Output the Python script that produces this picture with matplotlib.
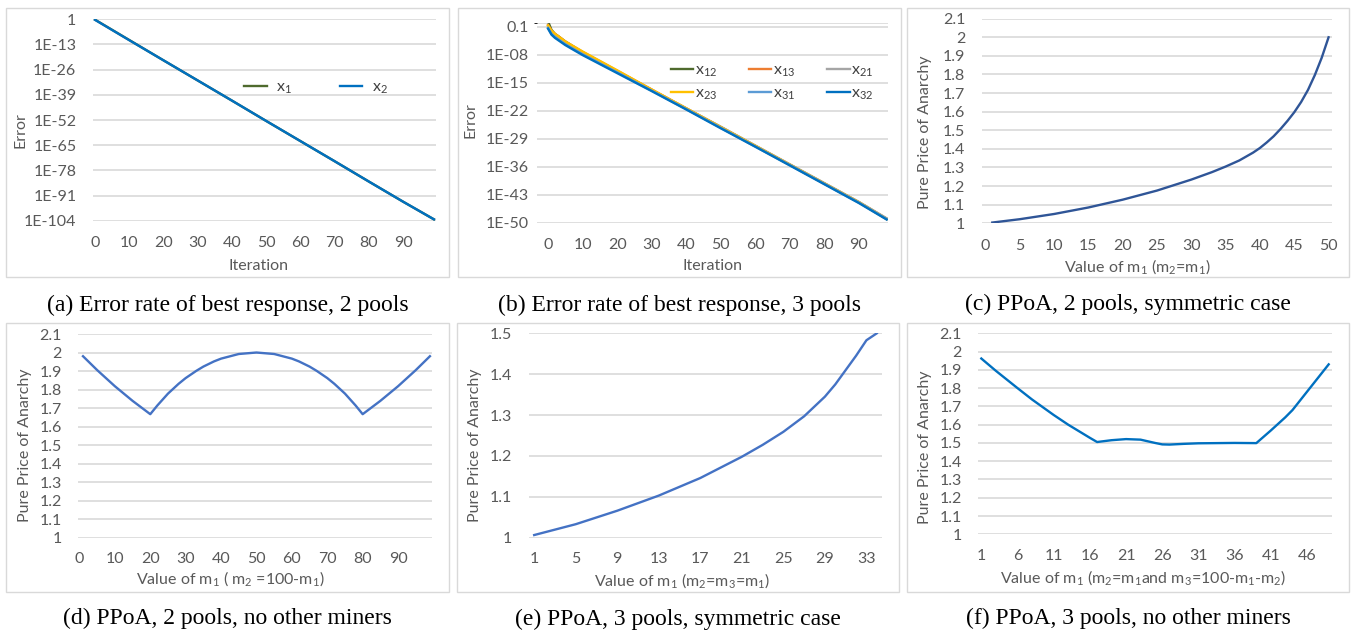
import numpy as np
import matplotlib
matplotlib.use("Agg")
import matplotlib.pyplot as plt
from matplotlib.patches import Rectangle
from matplotlib.ticker import NullLocator, NullFormatter

plt.rcParams['font.family'] = ['Lato', 'DejaVu Sans']
plt.rcParams['mathtext.default'] = 'regular'

# ---------------- datos ----------------
# (a) error, 2 pools (exponentes log10)
it_a = [0, 10, 20, 30, 40, 50, 60, 70, 80, 90, 99]
err_a_x1 = [-0.2, -10.7, -21.2, -31.6, -42.0, -52.5, -62.9, -73.3, -83.8, -94.2, -103.3]
err_a_x2 = [-0.3, -10.8, -21.2, -31.6, -42.0, -52.5, -62.9, -73.3, -83.8, -94.2, -103.3]
yticks_a = [-104, -91, -78, -65, -52, -39, -26, -13, 0]
ylabels_a = ['1E-104', '1E-91', '1E-78', '1E-65', '1E-52', '1E-39', '1E-26', '1E-13', '1']

# (b) error, 3 pools (exponentes log10)
it_b = [0, 1, 2, 3, 5, 10, 20, 30, 40, 50, 60, 70, 80, 90, 98]
err_b = {
    'x12': [0.3, -1.8, -2.8, -3.4, -4.7, -7.4, -12.1, -16.8, -21.5, -26.1, -30.8, -35.5, -40.2, -44.9, -49.0],
    'x13': [-0.6, -2.0, -2.8, -3.4, -4.7, -7.3, -12.0, -16.7, -21.4, -26.1, -30.8, -35.5, -40.2, -44.9, -49.0],
    'x21': [-0.9, -2.3, -3.1, -3.7, -4.9, -7.5, -12.1, -16.8, -21.4, -26.0, -30.7, -35.4, -40.1, -44.8, -48.9],
    'x23': [-0.7, -2.0, -2.8, -3.4, -4.7, -7.2, -11.9, -16.7, -21.4, -26.1, -30.8, -35.5, -40.2, -44.9, -49.1],
    'x31': [-1.3, -2.8, -3.6, -4.2, -5.4, -7.9, -12.4, -17.0, -21.6, -26.3, -31.0, -35.6, -40.3, -45.0, -49.1],
    'x32': [-1.5, -3.0, -3.8, -4.4, -5.6, -8.1, -12.6, -17.1, -21.7, -26.4, -31.0, -35.7, -40.4, -45.1, -49.2],
}
colores_b = {'x12': '#4F6A2D', 'x13': '#ED7D31', 'x21': '#A5A5A5',
             'x23': '#FFC000', 'x31': '#5B9BD5', 'x32': '#0070C0'}
yticks_b = [-50, -43, -36, -29, -22, -15, -8, -1]
ylabels_b = ['1E-50', '1E-43', '1E-36', '1E-29', '1E-22', '1E-15', '1E-08', '0.1']

# (c) PPoA 2 pools simetrico
m_c = [1, 5, 10, 15, 20, 25, 30, 33, 35, 37, 39, 40, 41, 42, 43, 44, 45, 46, 47, 48, 49, 50]
ppoa_c = [1.004, 1.022, 1.05, 1.085, 1.127, 1.176, 1.235, 1.275, 1.305, 1.338, 1.38,
          1.405, 1.435, 1.468, 1.507, 1.55, 1.597, 1.652, 1.717, 1.797, 1.89, 2.0]

# (d) PPoA 2 pools sin otros mineros
m_d = [1, 5, 10, 15, 20, 22, 25, 28, 30, 33, 35, 38, 40, 45, 50,
       55, 60, 62, 65, 67, 70, 72, 75, 78, 80, 85, 90, 95, 99]
ppoa_d = [1.98, 1.905, 1.818, 1.739, 1.667, 1.714, 1.778, 1.831, 1.862, 1.901, 1.924, 1.952, 1.967, 1.992, 2.0,
          1.992, 1.967, 1.952, 1.924, 1.901, 1.862, 1.831, 1.778, 1.714, 1.667, 1.739, 1.818, 1.905, 1.98]

# (e) PPoA 3 pools simetrico
m_e = [1, 5, 9, 13, 17, 21, 23, 25, 27, 29, 30, 31, 32, 33, 34]
ppoa_e = [1.0065, 1.033, 1.066, 1.103, 1.146, 1.198, 1.227, 1.259, 1.297, 1.345, 1.375,
          1.41, 1.445, 1.483, 1.5]

# (f) PPoA 3 pools sin otros mineros
m_f = [1, 3, 6, 8, 11, 13, 16, 17, 19, 21, 23, 25, 26, 27, 29, 31, 36, 39,
       41, 43, 44, 45, 46, 47, 48, 49]
ppoa_f = [1.962, 1.895, 1.80, 1.738, 1.653, 1.60, 1.528, 1.505, 1.515, 1.521, 1.518,
          1.50, 1.492, 1.491, 1.495, 1.498, 1.5, 1.499, 1.568, 1.64, 1.68, 1.73,
          1.78, 1.83, 1.88, 1.93]

# ---------------- figura ----------------
W, H = 1351, 633
fig = plt.figure(figsize=(W / 100, H / 100), dpi=100)
gris = '#595959'
lw = 1.7


def ejes(x0, y0, x1, y1):
    return fig.add_axes([x0 / W, 1 - y1 / H, (x1 - x0) / W, (y1 - y0) / H])


def estilo(ax, padx, pady):
    for s in ax.spines.values():
        s.set_visible(False)
    ax.tick_params(length=0, colors=gris, labelsize=11.5)
    ax.tick_params(axis='x', pad=padx)
    ax.tick_params(axis='y', pad=pady)
    ax.grid(axis='y', color='#D9D9D9', lw=1.2)
    ax.set_axisbelow(True)


def marco(x0, y0, x1, y1):
    fig.add_artist(Rectangle((x0 / W, 1 - y1 / H), (x1 - x0) / W, (y1 - y0) / H,
                             transform=fig.transFigure, fill=False,
                             ec='#D9D9D9', lw=1.0))


def texto(x, y, s, **kw):
    fig.text(x / W, 1 - y / H, s, ha='center', va='center', **kw)


# marcos de cada grafico
for caja in [(6, 8, 449, 277), (458, 8, 901, 277), (907, 8, 1349, 277),
             (6, 323, 449, 592), (457, 323, 899, 592), (907, 323, 1349, 592)]:
    marco(*caja)

# (a)
ax = ejes(93, 19.3, 436, 220.7)
ax.set_yscale('log')
ax.plot(it_a, 10.0 ** np.array(err_a_x1), color='#4F6A2D', lw=lw, label=r'x$_1$')
ax.plot(it_a, 10.0 ** np.array(err_a_x2), color='#0070C0', lw=lw, label=r'x$_2$')
ax.set_xlim(-0.6, 99.6)
ax.set_ylim(1e-104, 1)
ax.set_xticks(range(0, 100, 10))
ax.set_yticks([10.0 ** e for e in yticks_a])
ax.set_yticklabels(ylabels_a)
ax.yaxis.set_minor_locator(NullLocator())
estilo(ax, 11, 12)
ax.legend(ncol=2, loc='center', bbox_to_anchor=(0.65, 0.66), frameon=False,
          handlelength=1.4, handletextpad=0.6, columnspacing=3.0,
          fontsize=11.5, labelcolor='#404040')
texto(20, 130, 'Error', rotation=90, color=gris, fontsize=11.5)
texto(258, 266, 'Iteration', color=gris, fontsize=11.5)

# (b)
ax = ejes(537, 22.7, 888, 222.7)
ax.set_yscale('log')
lineas = {}
for k, v in err_b.items():
    lineas[k], = ax.plot(it_b, 10.0 ** np.array(v), color=colores_b[k], lw=lw,
                         label=r'x$_{%s}$' % k[1:])
ax.set_xlim(-3.2, 98.4)
ax.set_ylim(1e-50, 1)
ax.set_xticks(range(0, 100, 10))
ax.set_yticks([10.0 ** e for e in yticks_b])
ax.set_yticklabels(ylabels_b)
ax.set_yticks([1.0], minor=True)
ax.yaxis.set_minor_formatter(NullFormatter())
estilo(ax, 11, 6)
ax.grid(axis='y', which='minor', color='#D9D9D9', lw=1.2)
orden = ['x12', 'x23', 'x13', 'x31', 'x21', 'x32']
ax.legend([lineas[k] for k in orden], [lineas[k].get_label() for k in orden],
          ncol=3, loc='center', bbox_to_anchor=(0.67, 0.70), frameon=False,
          handlelength=1.4, handletextpad=0.1, columnspacing=2.0,
          fontsize=11.5, labelcolor='#404040', labelspacing=0.5)
texto(470, 120, 'Error', rotation=90, color=gris, fontsize=11.5)
texto(712, 266, 'Iteration', color=gris, fontsize=11.5)

etiquetas_21 = ['1', '1.1', '1.2', '1.3', '1.4', '1.5', '1.6', '1.7', '1.8', '1.9', '2', '2.1']

# (c)
ax = ejes(982, 18.7, 1332, 223.3)
ax.plot(m_c, ppoa_c, color='#2F5597', lw=lw)
ax.set_xlim(-0.5, 50.5)
ax.set_ylim(1, 2.1)
ax.set_xticks(range(0, 51, 5))
ax.set_yticks(np.round(np.arange(1, 2.15, 0.1), 1))
ax.set_yticklabels(etiquetas_21)
estilo(ax, 11, 12)
texto(925, 132, 'Pure Price of Anarchy', rotation=90, color=gris, fontsize=11.5)
texto(1137, 267, r'Value of m$_1$ (m$_2$=m$_1$)', color=gris, fontsize=11.5)

# (d)
ax = ejes(77.7, 334, 431.7, 537.7)
ax.plot(m_d, ppoa_d, color='#4472C4', lw=lw)
ax.set_xlim(-0.5, 99.5)
ax.set_ylim(1, 2.1)
ax.set_xticks(range(0, 100, 10))
ax.set_yticks(np.round(np.arange(1, 2.15, 0.1), 1))
ax.set_yticklabels(etiquetas_21)
estilo(ax, 10, 11.5)
texto(25, 445, 'Pure Price of Anarchy', rotation=90, color=gris, fontsize=11.5)
texto(230, 579, r'Value of m$_1$ ( m$_2$ =100-m$_1$)', color=gris, fontsize=11.5)

# (e)
ax = ejes(529, 333.3, 882, 537.7)
ax.plot(m_e, ppoa_e, color='#4472C4', lw=lw)
ax.set_xlim(0.5, 34.5)
ax.set_ylim(1, 1.5)
ax.set_xticks(range(1, 35, 4))
ax.set_yticks([1, 1.1, 1.2, 1.3, 1.4, 1.5])
ax.set_yticklabels(['1', '1.1', '1.2', '1.3', '1.4', '1.5'])
estilo(ax, 10, 12)
texto(475, 445, 'Pure Price of Anarchy', rotation=90, color=gris, fontsize=11.5)
texto(682, 581, r'Value of m$_1$ (m$_2$=m$_3$=m$_1$)', color=gris, fontsize=11.5)

# (f)
ax = ejes(977.7, 333.3, 1332.3, 534.3)
ax.plot(m_f, ppoa_f, color='#0070C0', lw=lw)
ax.set_xlim(0.5, 49.5)
ax.set_ylim(1, 2.1)
ax.set_xticks(range(1, 50, 5))
ax.set_yticks(np.round(np.arange(1, 2.15, 0.1), 1))
ax.set_yticklabels(etiquetas_21)
estilo(ax, 10.5, 11.5)
texto(925, 447, 'Pure Price of Anarchy', rotation=90, color=gris, fontsize=11.5)
texto(1143, 578, r'Value of m$_1$ (m$_2$=m$_1$and m$_3$=100-m$_1$-m$_2$)', color=gris, fontsize=11.5)

# leyendas de cada panel
serif = dict(family='Liberation Serif', fontsize=17, color='black')
texto(228, 305, '(a) Error rate of best response, 2 pools', **serif)
texto(679, 305, '(b) Error rate of best response, 3 pools', **serif)
texto(1128, 304, '(c) PPoA, 2 pools, symmetric case', **serif)
texto(227, 618, '(d) PPoA, 2 pools, no other miners', **serif)
texto(678, 619, '(e) PPoA, 3 pools, symmetric case', **serif)
texto(1128, 618, '(f) PPoA, 3 pools, no other miners', **serif)

fig.savefig('out.png', dpi=100)
